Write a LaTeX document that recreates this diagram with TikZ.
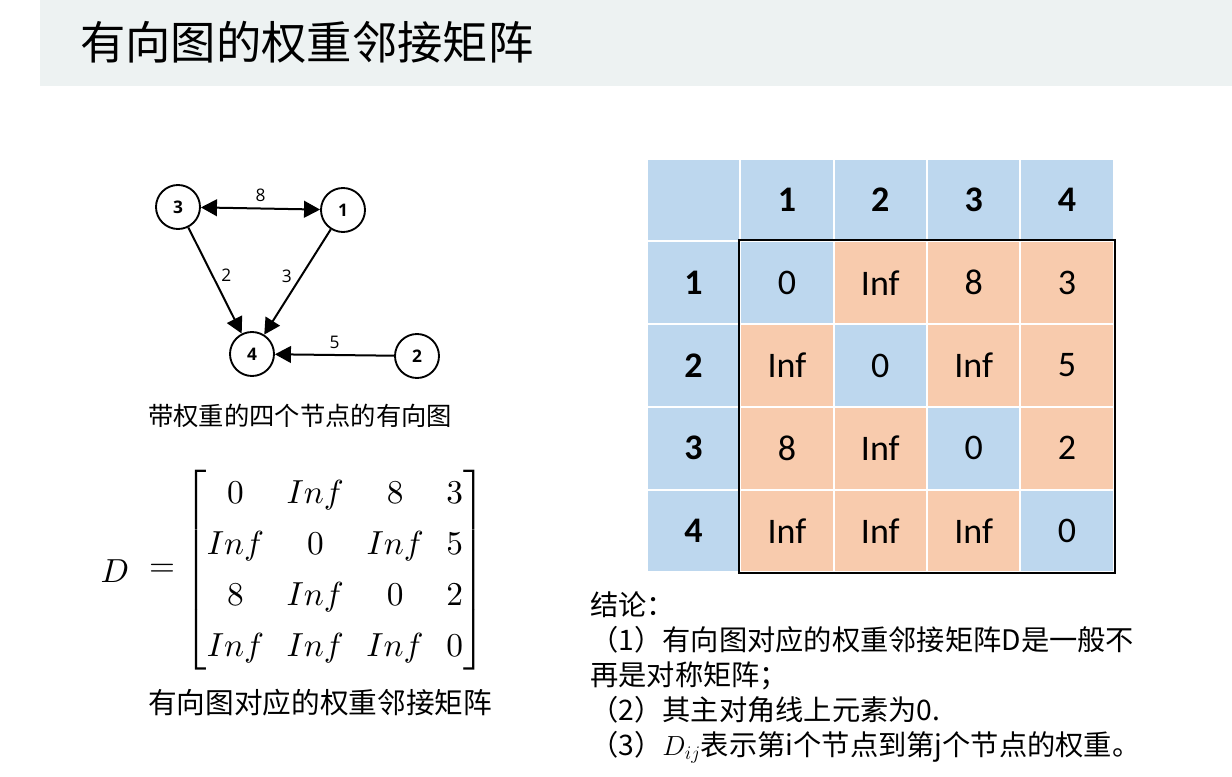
\documentclass[tikz,border=0pt]{standalone}
\usepackage{amsmath}
\usepackage{fontspec}
\usepackage{xcolor}
\newfontfamily\cjkfont{Noto Sans CJK SC}
\newfontfamily\calfont{Carlito}
\newfontfamily\opfont{Open Sans}
\definecolor{bandGray}{HTML}{EDF2F2}
\definecolor{cellBlue}{HTML}{BDD7EE}
\definecolor{cellRed}{HTML}{F8CBAD}
\usepackage{tikz}
\usetikzlibrary{arrows.meta}

\begin{document}
\begin{tikzpicture}[x=0.75pt, y=-0.75pt, >={Triangle[length=12pt,width=12.5pt]},
  vertex/.style={circle, draw, line width=1.4pt, minimum size=33pt, inner sep=0pt,
    font=\opfont\bfseries\fontsize{13}{15}\selectfont},
  weight/.style={font=\opfont\fontsize{13}{15}\selectfont, inner sep=1pt},
  cell/.style={draw=white, line width=1.5pt, minimum width=70pt, minimum height=62pt,
    inner sep=0pt, font=\calfont\fontsize{27}{32}\selectfont},
  head/.style={cell, fill=cellBlue, font=\calfont\bfseries\fontsize{27}{32}\selectfont}]
  \useasboundingbox[fill=white] (0,0) rectangle (1232,777);
  % ---------- title band ----------
  \fill[bandGray] (40,0) rectangle (1232,86);
  \node[anchor=west, inner sep=0pt, font=\cjkfont\fontsize{34}{40}\selectfont] (title) at (80,42) {有向图的权重邻接矩阵};
  % ---------- weighted digraph ----------
  \node[vertex] (n3) at (178,207) {3};
  \node[vertex] (n1) at (343,210) {1};
  \node[vertex] (n4) at (252,354) {4};
  \node[vertex] (n2) at (417,356) {2};
  \draw[<->, line width=1.5pt] (n3) -- (n1) node[weight, midway, above=3pt] {8};
  \draw[->, line width=1.5pt] (n3) -- (n4) node[weight, pos=0.45, right=5pt] {2};
  \draw[->, line width=1.5pt] (n1) -- (n4) node[weight, pos=0.45, left=5pt] {3};
  \draw[->, line width=1.5pt] (n2) -- (n4) node[weight, midway, above=3pt] {5};
  \node[font=\cjkfont\fontsize{19}{23}\selectfont] (capG) at (300,416) {带权重的四个节点的有向图};
  % ---------- matrix D ----------
  \node[scale=2.5] (mD) at (115,571) {$D$};
  \node[scale=2.5] (mEq) at (162,570) {$=$};
  \node[scale=2.5] (mMat) at (335,570) {$\renewcommand\arraystretch{1.27}\setlength\arraycolsep{3.4pt}
    \begin{bmatrix}
      0 & Inf & 8 & 3\\
      Inf & 0 & Inf & 5\\
      8 & Inf & 0 & 2\\
      Inf & Inf & Inf & 0
    \end{bmatrix}$};
  \node[font=\cjkfont\fontsize{21.5}{26}\selectfont] (capM) at (320,703) {有向图对应的权重邻接矩阵};
  % ---------- table ----------
  \node[head] (h-0) at (693.5,200) {};
  \foreach \c in {1,...,4}
    \node[head] (h-\c) at ({693.5+93.4*\c},200) {\c};
  \foreach \r/\vals in {1/{0,Inf,8,3}, 2/{Inf,0,Inf,5}, 3/{8,Inf,0,2}, 4/{Inf,Inf,Inf,0}} {
    \node[head] (v-\r) at (693.5,{200+82.75*\r}) {\r};
    \foreach \v [count=\c] in \vals {
      \ifnum\c=\r \def\cellc{cellBlue}\else\def\cellc{cellRed}\fi
      \node[cell, fill=\cellc] (c-\r-\c) at ({693.5+93.4*\c},{200+82.75*\r}) {\v};
    }
  }
  \draw[line width=1.5pt] (c-1-1.north west) rectangle (c-4-4.south east);
  % ---------- conclusions ----------
  \node[anchor=north west, align=left, inner sep=0pt,
    font=\cjkfont\fontsize{21.2}{26.3}\selectfont] (concl) at (590,591)
    {结论：\\（1）有向图对应的权重邻接矩阵D是一般不\\再是对称矩阵；\\（2）其主对角线上元素为0.\\（3）$D_{ij}$表示第i个节点到第j个节点的权重。};
\end{tikzpicture}
\end{document}
